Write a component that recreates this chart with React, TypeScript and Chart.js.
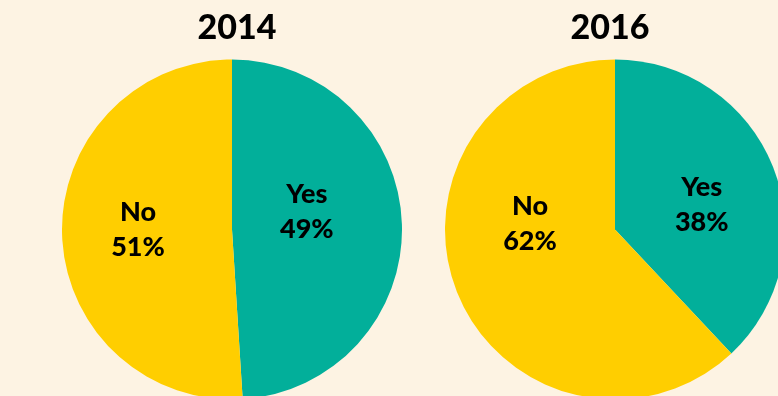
import React, { useEffect, useRef } from "react";
import { Chart, registerables } from "chart.js";

Chart.register(...registerables);

const categories = ["Yes", "No"];
const years = ["2014", "2016"];
const values2014 = [49, 51];
const values2016 = [38, 62];

const BG = "#FDF3E3";
const COLORS = ["#02AF9A", "#FFCE00"];
const FONT = "Lato, 'Open Sans', sans-serif";

// label anchor offsets as fractions of radius (per chart, per slice)
const labelOffsets = [
  [
    [0.44, -0.11],
    [-0.553, 0.0],
  ],
  [
    [0.51, -0.15],
    [-0.5, -0.035],
  ],
];
const titleDx = [5, -5];

function makePlugin(idx: number) {
  return {
    id: "customText" + idx,
    afterDraw(chart: any) {
      const ctx = chart.ctx;
      const meta = chart.getDatasetMeta(0);
      const arc = meta.data[0];
      const cx = arc.x;
      const cy = arc.y;
      const r = arc.outerRadius;
      ctx.save();
      ctx.fillStyle = "#000";
      ctx.textAlign = "center";
      ctx.textBaseline = "middle";
      ctx.font = `900 34px ${FONT}`;
      ctx.fillText(years[idx], cx + titleDx[idx], 28);
      ctx.font = `900 27px ${FONT}`;
      const data = chart.data.datasets[0].data as number[];
      data.forEach((v, i) => {
        const [fx, fy] = labelOffsets[idx][i];
        const x = cx + fx * r;
        const y = cy + fy * r;
        ctx.fillText(categories[i], x, y - 17);
        ctx.fillText(v + "%", x, y + 18);
      });
      ctx.restore();
    },
  };
}

function PieCanvas({ idx, values, left }: { idx: number; values: number[]; left: number }) {
  const ref = useRef<HTMLCanvasElement>(null);
  useEffect(() => {
    if (!ref.current) return;
    const chart = new Chart(ref.current, {
      type: "pie",
      data: {
        labels: categories,
        datasets: [
          {
            data: values,
            backgroundColor: COLORS,
            borderWidth: 0,
          },
        ],
      },
      options: {
        responsive: false,
        animation: false,
        layout: { padding: { top: 59, left: 0, right: 0, bottom: 0 } },
        plugins: {
          legend: { display: false },
          tooltip: { enabled: false },
          title: { display: false },
        },
      },
      plugins: [makePlugin(idx)],
    });
    return () => chart.destroy();
  }, []);
  return (
    <canvas
      ref={ref}
      width={340}
      height={400}
      style={{ position: "absolute", left, top: 0, width: 340, height: 400 }}
    />
  );
}

export default function App() {
  return (
    <div
      style={{
        position: "fixed",
        left: 0,
        top: 0,
        width: 778,
        height: 396,
        overflow: "hidden",
        background: BG,
      }}
    >
      <PieCanvas idx={0} values={values2014} left={62} />
      <PieCanvas idx={1} values={values2016} left={445} />
    </div>
  );
}
